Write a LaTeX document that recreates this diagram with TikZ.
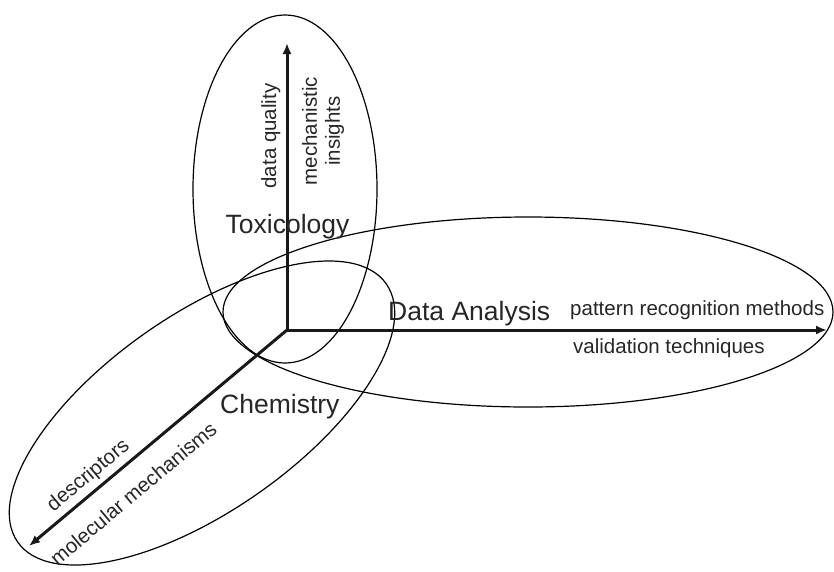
\documentclass[tikz,border=0pt]{standalone}
\usepackage{fontspec}
\setmainfont{Liberation Sans}
\usetikzlibrary{arrows.meta}

\begin{document}
\begin{tikzpicture}[x=1pt,y=-1pt,
  region/.style={draw=black, line width=1.2pt},
  axis/.style={line width=3pt, line cap=rect, draw=black!90,
    -{Latex[length=11pt,width=9pt]}},
  big/.style={font=\fontsize{26.5}{30}\selectfont, inner sep=0pt, text=black!85},
  small/.style={font=\fontsize{20.5}{23}\selectfont, inner sep=0pt, text=black!85},
]
\useasboundingbox (0,0) rectangle (834,571);

% the three overlapping fields
\draw[region] (285,189) ellipse [x radius=92pt, y radius=174pt];
\draw[region] (528,312) ellipse [x radius=305pt, y radius=95pt];
\draw[region] (202,413) ellipse [x radius=225pt, y radius=98pt, rotate=35];

% axes from the common origin
\coordinate (O) at (287,330);
\coordinate (ytip) at (287,43);
\coordinate (xtip) at (827,330);
\coordinate (ztip) at (29,546);
\draw[axis] (O) -- (ytip);
\draw[axis] (O) -- (xtip);
\draw[axis] (O) -- (ztip);

% field names
\node[big, anchor=base] (tox) at (287.5,233) {Toxicology};
\node[big, anchor=base west] (data) at (388,320) {Data Analysis};
\node[big, anchor=base west] (chem) at (220,413) {Chemistry};

% axis labels
\node[small, anchor=base west] (prm) at (570,315) {pattern recognition methods};
\node[small, anchor=base west] (vt) at (573,353) {validation techniques};
\node[small, rotate=90, anchor=base] (dq) at (276,136) {data quality};
\node[small, rotate=90, align=center] (mi) at (323,131) {mechanistic\\insights};
\node[small, rotate=40, anchor=base] (desc) at (92,480) {descriptors};
\node[small, rotate=40, anchor=base] (mol) at (138,499) {molecular mechanisms};
\end{tikzpicture}
\end{document}
